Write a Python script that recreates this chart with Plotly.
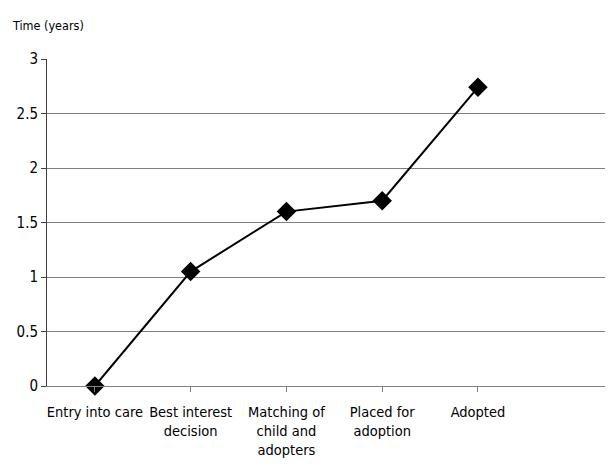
import plotly.graph_objects as go

stages = ["Entry into care", "Best interest<br>decision", "Matching of<br>child and<br>adopters",
          "Placed for<br>adoption", "Adopted"]
years = [0.0, 1.05, 1.60, 1.70, 2.74]
ytick_vals = [0, 0.5, 1, 1.5, 2, 2.5, 3]
ytick_text = ["0", "0.5", "1", "1.5", "2", "2.5", "3"]

FONT = "DejaVu Sans Condensed, sans-serif"

fig = go.Figure()
fig.add_trace(go.Scatter(
    x=list(range(len(stages))), y=years, mode="lines+markers",
    line=dict(color="black", width=2),
    marker=dict(symbol="diamond", size=15, color="black"),
    showlegend=False, cliponaxis=False,
))

# page body has an 8px default margin, so the figure is sized/offset accordingly
fig.update_layout(
    width=605, height=463,
    margin=dict(l=39, r=0, t=51, b=85),
    paper_bgcolor="white", plot_bgcolor="white",
    font=dict(family=FONT, size=15, color="black"),
    annotations=[dict(text="Time (years)", xref="paper", yref="paper",
                      x=-37/566, y=1 + 34/327, xanchor="left", yanchor="middle",
                      showarrow=False, font=dict(family=FONT, size=12.5, color="black"))],
)
fig.update_xaxes(
    range=[-0.5, 5.41], tickmode="array", tickvals=list(range(len(stages))), ticktext=stages,
    showgrid=False, zeroline=False, showline=True, linecolor="#808080", linewidth=1,
    ticks="outside", tickson="boundaries", ticklen=5, tickcolor="#808080",
    tickangle=0, tickfont=dict(family=FONT, size=14.5), automargin=False,
    ticklabelstandoff=8,
)
fig.update_yaxes(
    range=[0, 3], tickmode="array", tickvals=ytick_vals, ticktext=ytick_text,
    showgrid=True, gridcolor="#808080", gridwidth=1, zeroline=False,
    showline=True, linecolor="#404040", linewidth=1,
    ticks="outside", ticklen=5, tickcolor="#404040",
    tickfont=dict(family=FONT, size=15), automargin=False,
)

fig.write_html("out.html")
